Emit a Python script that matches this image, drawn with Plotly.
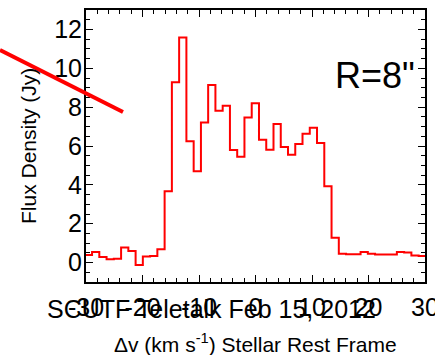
import plotly.graph_objects as go

# Bin-centre velocities (km/s) and flux densities (Jy)
velocity = [-29.57, -28.29, -27.00, -25.72, -24.43, -23.15, -21.86, -20.58, -19.30, -18.01,
            -16.73, -15.44, -14.16, -12.87, -11.59, -10.30, -9.02, -7.74, -6.45, -5.17,
            -3.88, -2.60, -1.31, -0.03, 1.26, 2.54, 3.83, 5.11, 6.39, 7.68,
            8.96, 10.25, 11.53, 12.82, 14.10, 15.39, 16.67, 17.96, 19.24, 20.52,
            21.81, 23.09, 24.38, 25.66, 26.95, 28.23, 29.52]
flux = [0.39, 0.54, 0.29, 0.17, 0.20, 0.77, 0.60, -0.12, 0.31, 0.34,
        0.68, 3.67, 9.28, 11.59, 6.24, 4.70, 7.21, 9.14, 7.81, 8.07,
        5.79, 5.45, 7.47, 8.20, 6.32, 5.81, 7.13, 5.95, 5.55, 6.10,
        6.63, 6.94, 6.15, 3.93, 1.28, 0.46, 0.43, 0.43, 0.54, 0.46,
        0.42, 0.42, 0.42, 0.55, 0.52, 0.37, 0.34]

x_ticks = [-30, -20, -10, 0, 10, 20, 30]
y_ticks = [0, 2, 4, 6, 8, 10, 12]

# pad half-bins at both ends so the step line covers full first/last channel
half = (velocity[1] - velocity[0]) / 2
xs = [velocity[0] - half] + velocity + [velocity[-1] + half]
ys = [flux[0]] + flux + [flux[-1]]

W, H = 435, 355
ml, mr, mt, mb = 86, 10, 10, 73
pw, ph = W - ml - mr, H - mt - mb

def px(x):
    return (x - ml) / pw

def py(y):
    return (H - mb - y) / ph

NARROW = "Liberation Sans Narrow, Arial Narrow, Liberation Sans, Arial, sans-serif"
REG = "Liberation Sans, Arial, Helvetica, sans-serif"

fig = go.Figure()
fig.add_trace(go.Scatter(x=xs, y=ys, mode="lines", line_shape="hvh",
                         line=dict(color="#ff0000", width=2), hoverinfo="skip",
                         showlegend=False))

axis_common = dict(showline=True, linecolor="black", linewidth=2, mirror="allticks",
                   ticks="inside", ticklen=7, tickwidth=1, tickcolor="black",
                   showgrid=False, zeroline=False, ticklabeloverflow="allow",
                   automargin=False,
                   tickfont=dict(family=NARROW, size=25, color="black"))

fig.update_xaxes(range=[-30, 30], tickvals=x_ticks,
                 ticktext=[str(v) for v in x_ticks],
                 ticklabelstandoff=2,
                 minor=dict(ticks="inside", dtick=2, ticklen=4, tickcolor="black", tickwidth=1),
                 **axis_common)
fig.update_yaxes(range=[-1, 13], tickvals=y_ticks,
                 ticklabelstandoff=-3,
                 minor=dict(ticks="inside", dtick=0.5, ticklen=4, tickcolor="black", tickwidth=1),
                 **axis_common)

fig.add_shape(type="line", xref="paper", yref="paper",
              x0=px(0), y0=py(50), x1=px(123), y1=py(112),
              line=dict(color="#ff0000", width=4))

fig.add_annotation(text="Flux Density (Jy)", xref="paper", yref="paper",
                   x=px(28), y=0.5, textangle=-90, showarrow=False,
                   xanchor="center", yanchor="middle",
                   font=dict(family=REG, size=21, color="black"))
fig.add_annotation(text="Δv (km s<sup>-1</sup>) Stellar Rest Frame", xref="paper", yref="paper",
                   x=px(255), y=py(343), showarrow=False,
                   xanchor="center", yanchor="middle",
                   font=dict(family=REG, size=21, color="black"))
fig.add_annotation(text="SCUTF Teletalk Feb 15, 2012", xref="paper", yref="paper",
                   x=px(211.5), y=py(309), showarrow=False,
                   xanchor="center", yanchor="middle",
                   font=dict(family=REG, size=25, color="black"))
fig.add_annotation(text='R=8"', xref="paper", yref="paper",
                   x=px(374.5), y=py(75), showarrow=False,
                   xanchor="center", yanchor="middle",
                   font=dict(family=NARROW, size=36, color="black"))

fig.update_layout(width=W, height=H, margin=dict(l=ml, r=mr, t=mt, b=mb, autoexpand=False),
                  plot_bgcolor="white", paper_bgcolor="white", showlegend=False)

fig.write_html("out.html")
